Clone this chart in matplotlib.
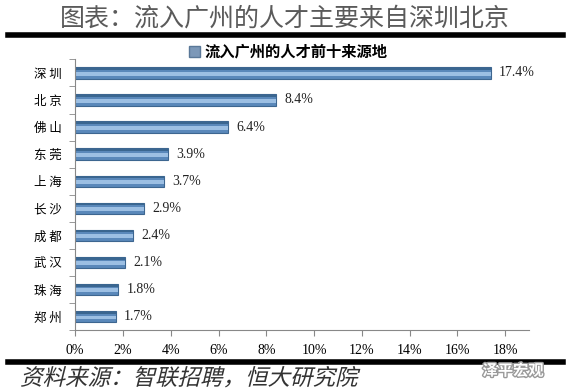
import numpy as np
import matplotlib
matplotlib.use('Agg')
from matplotlib import pyplot as plt
from matplotlib.lines import Line2D
from matplotlib.patches import Patch, PathPatch
from matplotlib.textpath import TextPath
from matplotlib.font_manager import FontProperties
from matplotlib.transforms import Affine2D
import matplotlib.patheffects as pe

plt.rcParams['font.family'] = ['Noto Sans CJK SC', 'DejaVu Sans']

# 数据：流入广州的人才前十来源地（%）
cities = ['深圳', '北京', '佛山', '东莞', '上海', '长沙', '成都', '武汉', '珠海', '郑州']
shares = [17.4, 8.4, 6.4, 3.9, 3.7, 2.9, 2.4, 2.1, 1.8, 1.7]
xticks = [0, 2, 4, 6, 8, 10, 12, 14, 16, 18]

fig = plt.figure(figsize=(5.7, 3.88), dpi=100)
ax = fig.add_axes([0.132, 0.149, 0.796, 0.698])

y = np.arange(len(cities))
# 底色 + 高光 + 顶部暗边，模拟渐变柱
ax.barh(y, shares, height=0.42, color='#5A88BA', edgecolor='#3D6690', linewidth=0.8)
ax.barh(y + 0.03, shares, height=0.14, color='#9CBFE3', linewidth=0)
ax.barh(y - 0.15, shares, height=0.08, color='#3A6690', linewidth=0)

for yi, v in zip(y, shares):
    ax.text(v + 0.35, yi, f'{v:.1f}%', va='center', ha='left', fontsize=10,
            family='Liberation Serif', color='#222222')

ax.set_ylim(len(cities) - 0.5, -0.5)
ax.set_xlim(0, 19)
ax.set_xticks(xticks)
ax.set_xticklabels([f'{t}%' for t in xticks], family='Liberation Serif', fontsize=10)
ax.set_yticks(y)
ax.set_yticklabels([' '.join(c) for c in cities], fontsize=9)
ax.set_yticks(np.arange(len(cities) + 1) - 0.5, minor=True)
ax.tick_params(axis='y', which='major', length=0, pad=10)
ax.tick_params(axis='y', which='minor', length=4, color='#888888', direction='out')
ax.tick_params(axis='x', length=4, color='#888888', direction='out', pad=6)
for s in ['top', 'right']:
    ax.spines[s].set_visible(False)
ax.spines['left'].set_color('#888888')
ax.spines['bottom'].set_color('#888888')

ax.legend(handles=[Patch(facecolor='#7C98B8', edgecolor='#5A7898')],
          labels=['流入广州的人才前十来源地'], loc='center',
          bbox_to_anchor=(0.47, 1.028), frameon=False,
          handlelength=0.7, handleheight=0.7, handletextpad=0.3,
          borderpad=0, prop={'weight': 'bold', 'size': 11})

fig.text(0.5, 0.953, '图表：流入广州的人才主要来自深圳北京', ha='center', va='center',
         fontsize=18, color='#5A5A5A')
fig.add_artist(Line2D([0.014, 0.988], [0.909, 0.909], color='black', lw=4))
fig.add_artist(Line2D([0.014, 0.988], [0.067, 0.067], color='black', lw=4))

# 斜体来源（字体无斜体，用倾斜变换）
src = TextPath((0, 0), '资料来源：智联招聘，恒大研究院', size=22.5,
               prop=FontProperties(family='Noto Sans CJK SC'))
tr = Affine2D().skew_deg(14, 0).translate(20, 3)
fig.add_artist(PathPatch(tr.transform_path(src), facecolor='#333333',
                         edgecolor='none', transform=None))

fig.text(0.9, 0.045, '泽平宏观', ha='center', va='center', fontsize=11,
         color='white', weight='bold',
         path_effects=[pe.withStroke(linewidth=2, foreground='#999999')])

plt.savefig('out.png', dpi=100)
